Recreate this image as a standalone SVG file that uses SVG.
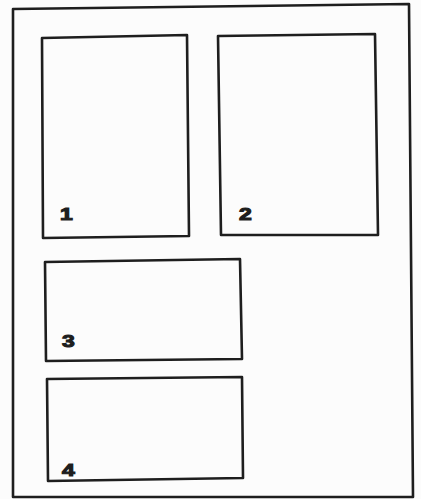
<svg xmlns="http://www.w3.org/2000/svg" width="421" height="499" viewBox="0 0 421 499">
<style>
.box{fill:none;stroke:#1e1e1e;stroke-width:2.6;stroke-linejoin:round}
.lbl{font-family:"Liberation Sans",Arial,sans-serif;font-weight:bold;font-size:17px;fill:#1e1e1e;stroke:#1e1e1e;stroke-width:1.1}
</style>
<rect width="421" height="499" fill="#fcfcfc"/>
<g id="frame"><polygon class="box" points="13,9 409,4 413,497 13,497"/></g>
<g id="node1"><polygon class="box" points="42,38 187,35 189,236 43,238"/><text class="lbl" transform="translate(60,220) scale(1.35,1)">1</text></g>
<g id="node2"><polygon class="box" points="218,36 375,34 378,235 221,235"/><text class="lbl" transform="translate(239,220) scale(1.35,1)">2</text></g>
<g id="node3"><polygon class="box" points="45,262 240,259 242,359 46,361"/><text class="lbl" transform="translate(62,347) scale(1.35,1)">3</text></g>
<g id="node4"><polygon class="box" points="47,379 242,377 243,478 48,481"/><text class="lbl" transform="translate(62,476) scale(1.35,1)">4</text></g>
<g id="connectors"></g>
</svg>
